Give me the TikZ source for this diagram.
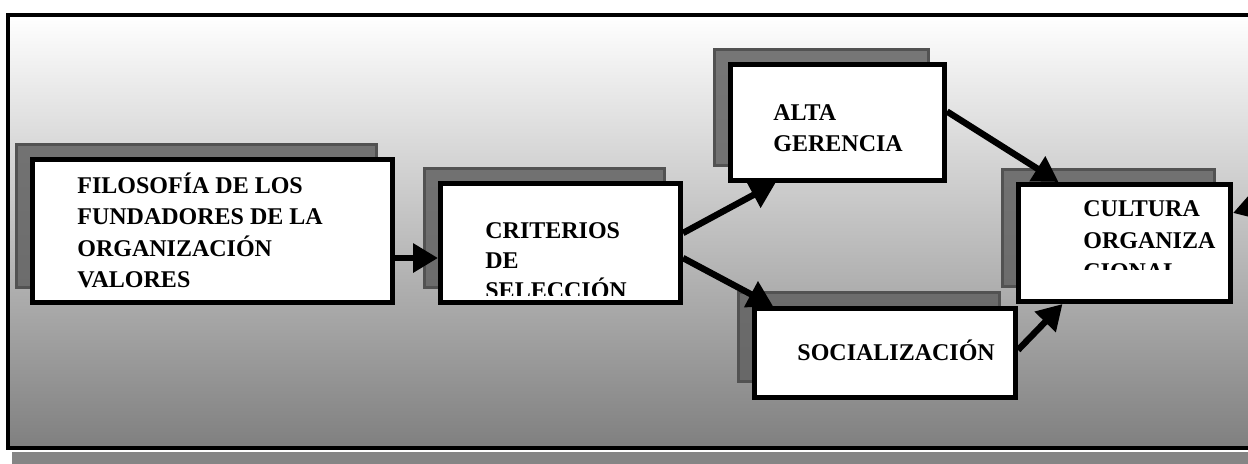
\documentclass[tikz,border=0pt]{standalone}
\usepackage{fontspec}
\setmainfont{Liberation Serif}
\usetikzlibrary{arrows.meta, positioning}

\begin{document}
\begin{tikzpicture}[
  x=0.5pt, y=-0.5pt,
  sombra/.style={rectangle, draw=black!68, line width=1.5pt, fill=black!62, fill opacity=0.85},
  caja/.style={rectangle, draw, line width=2.5pt, fill=white, inner sep=0pt},
  texto/.style={anchor=base west, inner sep=0pt, font=\fontsize{12}{15.75}\selectfont\bfseries},
  flecha/.style={-{Triangle[length=12.5pt, width=14pt]}, line width=3.2pt}
]
  \clip (0,0) rectangle (1248,463);
  % fondo y marco
  \fill[black!48] (12,452) rectangle (1280,470);
  \shade[top color=white, bottom color=black!50] (8,15) rectangle (1280,448);
  \draw[line width=2.25pt] (8,15) rectangle (1280,448);

  % sombras
  \node[sombra, minimum width=180pt, minimum height=71.5pt] (fils) at (196.5,216) {};
  \node[sombra, minimum width=120pt, minimum height=59.5pt] (crits) at (544.5,228) {};
  \node[sombra, minimum width=107pt, minimum height=58pt] (altas) at (821.5,107.5) {};
  \node[sombra, minimum width=130.5pt, minimum height=44.5pt] (socs) at (869,337) {};
  \node[sombra, minimum width=106pt, minimum height=58.5pt] (cults) at (1108.5,228) {};

  % cajas
  \node[caja, minimum width=180pt, minimum height=71.5pt] (fil) at (212.5,231) {};
  \node[caja, minimum width=120pt, minimum height=59.5pt] (crit) at (560.5,243) {};
  \node[caja, minimum width=107pt, minimum height=58pt] (alta) at (837.5,122.5) {};
  \node[caja, minimum width=130.5pt, minimum height=44.5pt] (soc) at (885,353) {};
  \node[caja, minimum width=106pt, minimum height=58.5pt] (cult) at (1124.5,243) {};

  % textos
  \node[texto] (tfil) at (77,193) {\parbox[t]{170pt}{FILOSOFÍA DE LOS\\ FUNDADORES DE LA\\ ORGANIZACIÓN\\ VALORES}};
  \begin{scope}
    \clip (442,186) rectangle (679,295);
    \node[texto, font=\fontsize{12}{15}\selectfont\bfseries] (tcrit) at (485,238) {\parbox[t]{100pt}{CRITERIOS\\ DE\\ SELECCIÓN}};
  \end{scope}
  \node[texto] (talta) at (773,120) {\parbox[t]{80pt}{ALTA\\ GERENCIA}};
  \node[texto] (tsoc) at (797,360) {SOCIALIZACIÓN};
  \begin{scope}
    \clip (1020,186) rectangle (1229,269);
    \node[texto] (tcult) at (1083,216.7) {\parbox[t]{80pt}{CULTURA\\ ORGANIZA\\ CIONAL}};
  \end{scope}

  % flechas
  \coordinate (fuera) at (1300,192);
  \draw[flecha] (fil.east |- 0,258) -- (crit.west |- 0,258);
  \draw[flecha] ([yshift=5pt]crit.east) -- ([xshift=-31pt]alta.south);
  \draw[flecha] ([yshift=-7.5pt]crit.east) -- ([xshift=-56pt]soc.north);
  \draw[flecha] ([yshift=5.5pt]alta.east) -- ([xshift=-33pt]cult.north);
  \draw[flecha] ([yshift=1.5pt]soc.east) -- ([xshift=-31pt]cult.south);
  \draw[flecha] (fuera) -- ([yshift=15pt]cult.east);
\end{tikzpicture}
\end{document}
